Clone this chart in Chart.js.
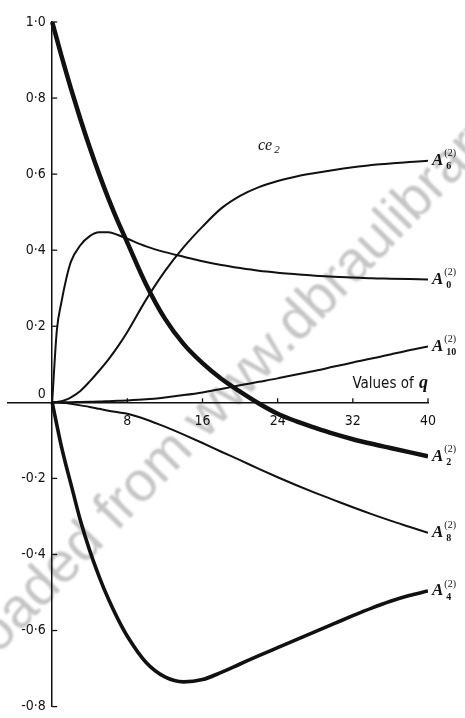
<!DOCTYPE html>
<html>
<head>
<meta charset="utf-8">
<title>ce2 coefficients</title>
<script src="https://cdn.jsdelivr.net/npm/chart.js@4.4.1/dist/chart.umd.min.js"></script>
<style>
  body { margin: 0; background: #fff; }
  canvas { display: block; }
</style>
</head>
<body>
<canvas id="chart" width="465" height="718"></canvas>
<script>
// values of q where the coefficients were read
const qValues = [0, 0.5, 1, 1.5, 2, 3, 4, 5, 6, 7, 8, 10, 12, 14, 16, 18, 20, 22, 24, 26, 28, 30, 32, 34, 36, 38, 40];

// coefficients A_r^(2) of ce2
const a6 = [0, 0.001, 0.003, 0.007, 0.013, 0.03, 0.055, 0.083, 0.113, 0.147, 0.185, 0.27, 0.345, 0.408, 0.462, 0.51, 0.543, 0.566, 0.582, 0.594, 0.603, 0.611, 0.618, 0.624, 0.628, 0.632, 0.635];
const a0 = [0, 0.19, 0.265, 0.325, 0.37, 0.413, 0.437, 0.447, 0.447, 0.44, 0.43, 0.41, 0.395, 0.383, 0.371, 0.361, 0.353, 0.346, 0.341, 0.337, 0.333, 0.33, 0.328, 0.326, 0.325, 0.324, 0.323];
const a10 = [0, 0, 0, 0, 0.0005, 0.001, 0.0015, 0.002, 0.003, 0.004, 0.005, 0.008, 0.013, 0.019, 0.026, 0.035, 0.045, 0.054, 0.063, 0.073, 0.083, 0.094, 0.105, 0.115, 0.126, 0.137, 0.147];
const a2 = [1.0, 0.955, 0.91, 0.867, 0.825, 0.745, 0.67, 0.6, 0.535, 0.475, 0.42, 0.31, 0.22, 0.153, 0.103, 0.062, 0.028, -0.003, -0.03, -0.05, -0.067, -0.083, -0.097, -0.109, -0.12, -0.131, -0.142];
const a8 = [0, -0.0005, -0.001, -0.002, -0.004, -0.008, -0.012, -0.017, -0.022, -0.026, -0.03, -0.045, -0.064, -0.085, -0.107, -0.13, -0.152, -0.175, -0.197, -0.218, -0.238, -0.257, -0.276, -0.294, -0.311, -0.327, -0.343];
const a4 = [0, -0.06, -0.118, -0.168, -0.215, -0.31, -0.39, -0.458, -0.518, -0.57, -0.615, -0.684, -0.722, -0.735, -0.729, -0.71, -0.688, -0.666, -0.645, -0.624, -0.603, -0.582, -0.561, -0.541, -0.523, -0.508, -0.496];

const seriesIndex = ['6', '0', '10', '2', '8', '4'];
const qTicks = [8, 16, 24, 32, 40];
const yTicks = [1, 0.8, 0.6, 0.4, 0.2, 0, -0.2, -0.4, -0.6, -0.8];

const ink = '#111';
const tickFont = { family: "'Liberation Sans Narrow', 'DejaVu Sans Condensed', 'Liberation Sans', sans-serif", size: 14 };

const toPoints = vals => vals.map((v, i) => ({ x: qValues[i], y: v }));
const fmt = v => (v < 0 ? '-' : '') + Math.abs(v).toFixed(1).replace('.', '\u00B7');

function line(ctx, x1, y1, x2, y2) {
  ctx.beginPath();
  ctx.moveTo(x1, y1);
  ctx.lineTo(x2, y2);
  ctx.stroke();
}

// faint diagonal stamp behind the plot
const stamp = {
  id: 'stamp',
  beforeDraw(chart) {
    const ctx = chart.ctx;
    ctx.save();
    ctx.font = '56px "Liberation Sans", sans-serif';
    ctx.fillStyle = 'rgba(140,140,140,0.5)';
    ctx.filter = 'blur(1px)';
    ctx.translate(298, 322);
    ctx.rotate(-46 * Math.PI / 180);
    const lead = ctx.measureText('Downloaded from www.').width + ctx.measureText('d').width / 2;
    ctx.textBaseline = 'middle';
    ctx.fillText('Downloaded from www.dbraulibrary.org.in', -lead, 0);
    ctx.restore();
  }
};

// tick marks, curve names and axis captions
const annotate = {
  id: 'annotate',
  afterDraw(chart) {
    const ctx = chart.ctx;
    const xs = chart.scales.x, ys = chart.scales.y;
    const x0 = xs.getPixelForValue(0), y0 = ys.getPixelForValue(0);
    ctx.save();
    ctx.strokeStyle = ink;
    ctx.fillStyle = ink;
    ctx.lineWidth = 1.3;
    yTicks.forEach(v => {
      if (v === 0) return;
      const py = ys.getPixelForValue(v);
      line(ctx, x0, py, x0 + 5, py);
    });
    qTicks.forEach(q => {
      const px = xs.getPixelForValue(q);
      line(ctx, px, y0, px, y0 - 4);
    });

    ctx.textBaseline = 'middle';
    ctx.textAlign = 'left';
    chart.data.datasets.forEach((ds, i) => {
      const pts = chart.getDatasetMeta(i).data;
      const end = pts[pts.length - 1];
      const x = end.x + 4, y = end.y;
      ctx.font = 'bold italic 17px "Liberation Serif", serif';
      ctx.fillText('A', x, y);
      const w = ctx.measureText('A').width;
      ctx.font = '10px "Liberation Serif", serif';
      ctx.fillText('(2)', x + w + 1, y - 7);
      ctx.font = 'bold 10px "Liberation Serif", serif';
      ctx.fillText(seriesIndex[i], x + w + 3, y + 6);
    });

    // "Values of q" above the right end of the q axis
    ctx.textBaseline = 'alphabetic';
    ctx.textAlign = 'right';
    const xr = xs.getPixelForValue(40);
    ctx.font = 'bold italic 18px "Liberation Serif", serif';
    ctx.fillText('q', xr, y0 - 14);
    const qw = ctx.measureText('q').width;
    ctx.font = '15px ' + tickFont.family;
    ctx.fillText('Values of ', xr - qw - 1, y0 - 14);

    // function name
    ctx.textAlign = 'left';
    const cx = xs.getPixelForValue(21.9), cy = ys.getPixelForValue(0.664);
    ctx.font = 'italic 16px "Liberation Serif", serif';
    ctx.fillText('ce', cx, cy);
    const cw = ctx.measureText('ce').width;
    ctx.font = 'italic 11px "Liberation Serif", serif';
    ctx.fillText('2', cx + cw + 2, cy + 3);
    ctx.restore();
  }
};

const thin = { borderColor: ink, borderWidth: 2, pointRadius: 0, fill: false, cubicInterpolationMode: 'monotone' };

const chart = new Chart(document.getElementById('chart').getContext('2d'), {
  type: 'line',
  data: {
    datasets: [
      { ...thin, label: 'A6', data: toPoints(a6) },
      { ...thin, label: 'A0', data: toPoints(a0) },
      { ...thin, label: 'A10', data: toPoints(a10) },
      { ...thin, label: 'A2', data: toPoints(a2), borderWidth: 4.5 },
      { ...thin, label: 'A8', data: toPoints(a8) },
      { ...thin, label: 'A4', data: toPoints(a4), borderWidth: 3.6 }
    ]
  },
  options: {
    responsive: false,
    animation: false,
    layout: { padding: { left: 8, right: 37, top: 22, bottom: 11 } },
    plugins: { legend: { display: false }, tooltip: { enabled: false } },
    scales: {
      x: {
        type: 'linear',
        min: -4.7,
        max: 40,
        position: { y: 0 },
        afterBuildTicks: axis => { axis.ticks = qTicks.map(v => ({ value: v })); },
        grid: { display: false },
        border: { color: ink, width: 1.5 },
        ticks: { color: ink, font: tickFont, padding: 3, maxRotation: 0 }
      },
      y: {
        type: 'linear',
        min: -0.8,
        max: 1.0,
        position: { x: 0 },
        afterBuildTicks: axis => { axis.ticks = yTicks.map(v => ({ value: v })); },
        grid: { display: false },
        border: { color: ink, width: 1.5 },
        ticks: {
          color: ink,
          font: tickFont,
          callback: v => v === 0 ? ['0\u2002', ''] : fmt(v) + '\u2002'
        }
      }
    }
  },
  plugins: [stamp, annotate]
});
</script>
</body>
</html>
